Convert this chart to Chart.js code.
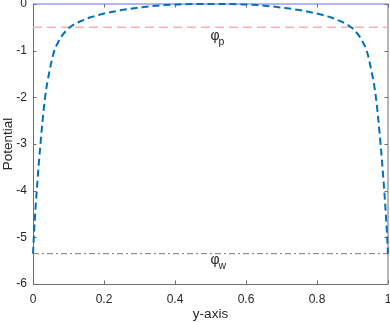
<!DOCTYPE html>
<html>
<head>
<meta charset="utf-8">
<script src="https://cdn.jsdelivr.net/npm/chart.js@4"></script>
<style>
  html, body { margin: 0; padding: 0; background: #fff; }
  #wrap { width: 390px; height: 323px; position: relative; }
</style>
</head>
<body>
<div id="wrap"><canvas id="chart"></canvas></div>
<script>
// 데이터
const sheathX = [0, 0.003, 0.007, 0.012, 0.021, 0.034, 0.047, 0.06, 0.07, 0.08, 0.09, 0.1, 0.11, 0.125, 0.14, 0.16, 0.18, 0.2, 0.225, 0.25, 0.29, 0.33, 0.37, 0.41, 0.45, 0.5,
                 0.55, 0.59, 0.63, 0.67, 0.71, 0.75, 0.775, 0.8, 0.82, 0.84, 0.86, 0.875, 0.89, 0.9, 0.91, 0.92, 0.93, 0.94, 0.953, 0.966, 0.979, 0.988, 0.993, 0.997, 1];
const sheathY = [-5.35, -4.9, -4.4, -3.85, -3.0, -2.0, -1.42, -1.0, -0.83, -0.7, -0.6, -0.52, -0.465, -0.4, -0.35, -0.29, -0.245, -0.205, -0.165, -0.13, -0.086, -0.05, -0.024, -0.009, -0.002, 0,
                 -0.002, -0.009, -0.024, -0.05, -0.086, -0.13, -0.165, -0.205, -0.245, -0.29, -0.35, -0.4, -0.465, -0.52, -0.6, -0.7, -0.83, -1.0, -1.42, -2.0, -3.0, -3.85, -4.4, -4.9, -5.35];
const lineX = [0, 1];
const plasmaLevel = [0, 0];
const phiP = [-0.5, -0.5];
const phiW = [-5.35, -5.35];
const xTicks = [0, 0.2, 0.4, 0.6, 0.8, 1];
const yTicks = [-6, -5, -4, -3, -2, -1, 0];
const labels = [
    { x: 0.5, y: -0.75, sym: "φ", sub: "p" },
    { x: 0.5, y: -5.55, sym: "φ", sub: "w" }
];

const FONT = "'Liberation Sans', Arial, Helvetica, sans-serif";
const pts = (xs, ys) => xs.map((x, i) => ({ x: x, y: ys[i] }));

// 축 테두리와 안쪽 눈금
const boxPlugin = {
    id: "box",
    beforeDatasetsDraw(chart) {
        const { ctx, chartArea: a, scales: { x, y } } = chart;
        ctx.save();
        ctx.strokeStyle = "#6e6e6e";
        ctx.lineWidth = 1;
        ctx.beginPath();
        ctx.moveTo(a.left + 0.5, a.top);
        ctx.lineTo(a.left + 0.5, a.bottom + 0.5);
        ctx.lineTo(a.right, a.bottom + 0.5);
        ctx.lineTo(a.right, a.top);
        const tl = 3.5;
        xTicks.forEach(v => {
            const px = Math.round(x.getPixelForValue(v)) + 0.5;
            ctx.moveTo(px, a.bottom);
            ctx.lineTo(px, a.bottom - tl);
            ctx.moveTo(px, a.top);
            ctx.lineTo(px, a.top + tl);
        });
        yTicks.forEach(v => {
            const py = Math.round(y.getPixelForValue(v)) + 0.5;
            ctx.moveTo(a.left, py);
            ctx.lineTo(a.left + tl, py);
            ctx.moveTo(a.right, py);
            ctx.lineTo(a.right - tl, py);
        });
        ctx.stroke();
        ctx.restore();
    },
    afterDatasetsDraw(chart) {
        const { ctx, scales: { x, y } } = chart;
        ctx.save();
        ctx.fillStyle = "#262626";
        ctx.textBaseline = "alphabetic";
        ctx.textAlign = "left";
        labels.forEach(l => {
            const px = x.getPixelForValue(l.x);
            const py = y.getPixelForValue(l.y);
            ctx.font = "14px " + FONT;
            ctx.fillText(l.sym, px, py + 1);
            const w = ctx.measureText(l.sym).width;
            ctx.font = "10.5px " + FONT;
            ctx.fillText(l.sub, px + w - 1, py + 6);
        });
        ctx.restore();
    }
};

new Chart(document.getElementById("chart"), {
    type: "scatter",
    data: {
        datasets: [
            {
                data: pts(sheathX, sheathY),
                showLine: true,
                borderColor: "#0072BD",
                borderWidth: 2,
                borderDash: [7, 4],
                pointRadius: 0,
                cubicInterpolationMode: "monotone",
                clip: false,
                order: 0
            },
            {
                data: pts(lineX, plasmaLevel),
                showLine: true,
                borderColor: "rgb(105,105,255)",
                borderWidth: 1,
                pointRadius: 0,
                clip: false,
                order: 1
            },
            {
                data: pts(lineX, phiP),
                showLine: true,
                borderColor: "rgb(255,176,176)",
                borderWidth: 1.5,
                borderDash: [9, 5],
                pointRadius: 0,
                clip: false,
                order: 2
            },
            {
                data: pts(lineX, phiW),
                showLine: true,
                borderColor: "#7a7a7a",
                borderWidth: 1,
                borderDash: [6, 3, 2, 3],
                pointRadius: 0,
                clip: false,
                order: 3
            }
        ]
    },
    options: {
        responsive: true,
        maintainAspectRatio: false,
        animation: false,
        layout: { padding: { top: 4, right: 2, left: 0, bottom: 0 } },
        plugins: { legend: { display: false }, tooltip: { enabled: false } },
        scales: {
            x: {
                type: "linear",
                min: 0,
                max: 1,
                afterBuildTicks: s => { s.ticks = xTicks.map(v => ({ value: v })); },
                afterFit: s => { s.height = 39; s.paddingLeft = 0; s.paddingRight = 0; },
                grid: { display: false, drawTicks: false },
                border: { display: false },
                ticks: {
                    padding: 8,
                    color: "#262626",
                    font: { family: FONT, size: 12 },
                    maxRotation: 0,
                    callback: v => String(v)
                },
                title: {
                    display: true,
                    text: "y-axis",
                    color: "#262626",
                    font: { family: FONT, size: 13.5 },
                    padding: { top: 0, bottom: 1 }
                }
            },
            y: {
                type: "linear",
                min: -6,
                max: 0,
                afterBuildTicks: s => { s.ticks = yTicks.map(v => ({ value: v })); },
                afterFit: s => { s.width = 33; s.paddingTop = 0; s.paddingBottom = 0; },
                grid: { display: false, drawTicks: false },
                border: { display: false },
                ticks: {
                    padding: 6,
                    color: "#262626",
                    font: { family: FONT, size: 12 },
                    callback: v => String(v)
                },
                title: {
                    display: true,
                    text: "Potential",
                    color: "#262626",
                    font: { family: FONT, size: 13.5 },
                    padding: { top: 0, bottom: 0 }
                }
            }
        }
    },
    plugins: [boxPlugin]
});
</script>
</body>
</html>
